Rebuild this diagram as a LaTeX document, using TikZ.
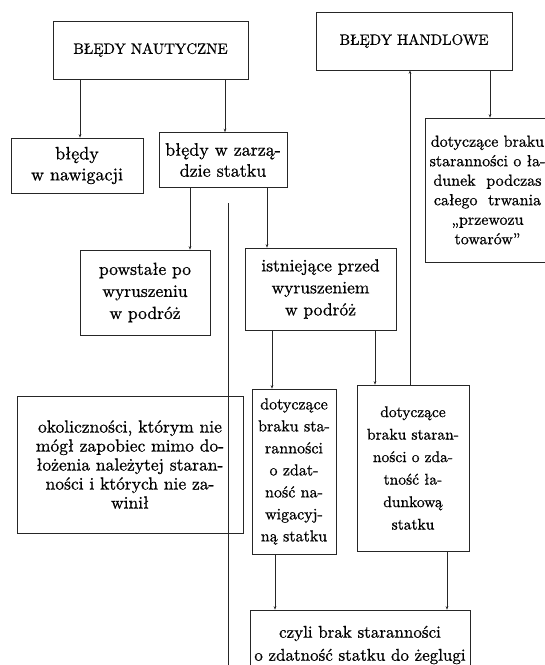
\documentclass[tikz,border=0pt]{standalone}
\usepackage{fontspec}
\setmainfont{lmroman10-regular.otf}[FakeBold=0.8]
\usetikzlibrary{arrows.meta}
\newcommand{\fs}[2]{\fontsize{#1}{#2}\selectfont}
\begin{document}
\begin{tikzpicture}[x=1pt,y=-1pt,
  box/.style={draw=black!85,line width=0.6pt,inner sep=0pt,align=center},
  arr/.style={draw=black!85,line width=0.6pt,-{Stealth[length=3.5pt,width=2.6pt]}},
  ln/.style={draw=black!85,line width=0.6pt}]
\clip (0,0) rectangle (545,665);
\useasboundingbox (0,0) rectangle (545,665);
\node[box,font=\fs{15}{18},minimum width=195,minimum height=58] (naut) at (150.5,50) {BŁĘDY NAUTYCZNE};
\node[box,font=\fs{15}{18},minimum width=196,minimum height=58] (hand) at (414,41) {BŁĘDY HANDLOWE};
\node[box,font=\fs{18}{21},minimum width=132,minimum height=55] (nawig) at (77,165.5) {błędy\\w nawigacji};
\node[box,font=\fs{18}{21},minimum width=128,minimum height=55] (zarz) at (223,160) {błędy w zarzą-\\dzie statku};
\node[box,font=\fs{16}{19.5},minimum width=125,minimum height=144] (lad) at (487.5,190) {dotyczące braku\\staranności o ła-\\dunek \ podczas\\całego \ trwania\\„przewozu\\towarów”};
\node[box,font=\fs{17.5}{22},minimum width=130,minimum height=85] (powst) at (145,292.5) {powstałe po\\wyruszeniu\\w podróż};
\node[box,font=\fs{17.5}{22},minimum width=151,minimum height=82] (istn) at (320.5,289) {istniejące przed\\wyruszeniem\\w podróż};
\node[box,font=\fs{17.5}{19},minimum width=226,minimum height=137] (okol) at (130,464.5) {okoliczności, którym nie\\mógł zapobiec mimo do-\\łożenia należytej staran-\\ności i których nie za-\\winił};
\node[box,font=\fs{16}{22},minimum width=84,minimum height=165] (b9) at (294,471.5) {dotyczące\\braku sta-\\ranności\\o zdat-\\ność na-\\wigacyj-\\ną statku};
\node[box,font=\fs{15.5}{22.5},minimum width=112,minimum height=166] (b10) at (413,468) {dotyczące\\braku staran-\\ności o zda-\\tność ła-\\dunkową\\statku};
\node[box,font=\fs{17}{23},minimum width=220,minimum height=70] (b11) at (360,645) {czyli brak staranności\\o zdatność statku do żeglugi};
\coordinate (ltop) at (228,203);
\coordinate (lbot) at (228,665);
% connectors
\draw[arr] ([xshift=-70.5]naut.south) -- ([xshift=3]nawig.north);
\draw[arr] ([xshift=74.5]naut.south) -- ([xshift=2]zarz.north);
\draw[arr] ([xshift=-33]zarz.south) -- ([xshift=45]powst.north);
\draw[arr] ([xshift=44]zarz.south) -- ([xshift=-53.5]istn.north);
\draw[ln] (ltop) -- (lbot);
\draw[arr] ([xshift=-3]b10.north) -- ([xshift=-4]hand.south);
\draw[arr] ([xshift=76]hand.south) -- ([xshift=2.5]lad.north);
\draw[arr] ([xshift=-48.5]istn.south) -- ([xshift=-22]b9.north);
\draw[arr] ([xshift=54.5]istn.south) -- ([xshift=-38]b10.north);
\draw[arr] ([xshift=-19]b9.south) -- ([xshift=-85]b11.north);
\draw[arr] ([xshift=34]b10.south) -- ([xshift=87]b11.north);
\end{tikzpicture}
\end{document}
